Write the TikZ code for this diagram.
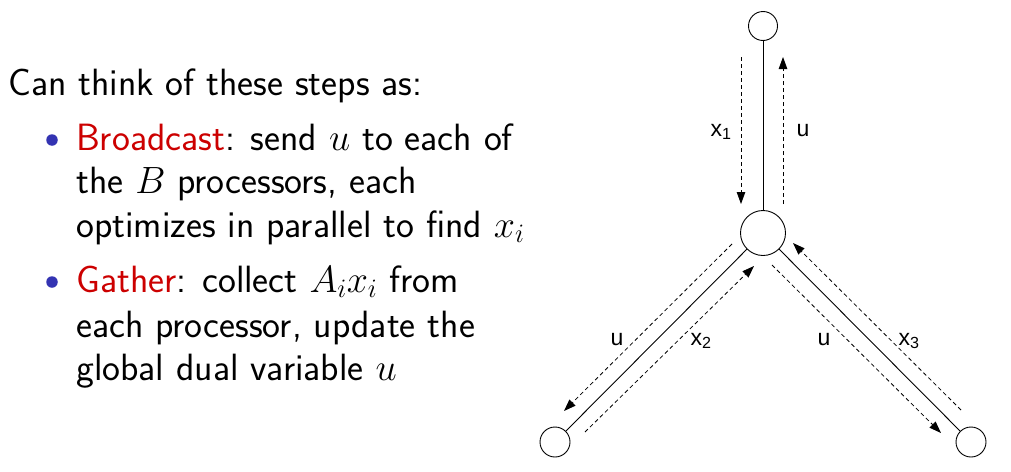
\documentclass[tikz,border=0pt]{standalone}
\usepackage{fix-cm}
\usepackage{fontspec}
\newfontfamily\lblfont{Liberation Sans}
\usetikzlibrary{arrows.meta}
\definecolor{alertred}{RGB}{204,0,0}
\definecolor{bulletblue}{RGB}{51,51,178}
\tikzset{
  proc/.style={circle,draw,line width=0.9pt,inner sep=0pt},
  link/.style={line width=0.9pt},
  msg/.style={dashed,dash pattern=on 4pt off 3pt,line width=0.8pt,-{Triangle[length=12pt,width=8.5pt]}},
  lbl/.style={font=\lblfont\fontsize{23}{25}\selectfont,inner sep=0pt,anchor=base},
  txt/.style={font=\sffamily\fontsize{38}{45}\selectfont,inner sep=0pt,anchor=base west},
  bul/.style={circle,fill=bulletblue,inner sep=0pt,minimum size=11.5pt}
}
\begin{document}
\begin{tikzpicture}[x=1pt,y=-1pt]
\useasboundingbox (0,0) rectangle (1011,471);
% text
\node[txt] (t0) at (8,95) {Can think of these steps as:};
\node[bul] (b1) at (52,140) {};
\node[txt] (t1) at (76,150) {\textcolor{alertred}{Broadcast}: send $u$ to each of};
\node[txt] (t2) at (76,193) {the $B$ processors, each};
\node[txt] (t3) at (76,237) {optimizes in parallel to find $x_i$};
\node[bul] (b2) at (52,282) {};
\node[txt] (t4) at (76,292) {\textcolor{alertred}{Gather}: collect $A_ix_i$ from};
\node[txt] (t5) at (76,337) {each processor, update the};
\node[txt] (t6) at (76,380) {global dual variable $u$};
% nodes
\node[proc,minimum size=29pt] (top) at (763,26) {};
\node[proc,minimum size=45pt] (cen) at (763,233) {};
\node[proc,minimum size=30pt] (bl) at (555,442) {};
\node[proc,minimum size=30pt] (br) at (971,442) {};
\draw[link] (top) -- (cen);
\draw[link] (cen) -- (bl);
\draw[link] (cen) -- (br);
% message arrows
\coordinate (x1s) at (741,57);  \coordinate (x1e) at (741,204);
\coordinate (u1s) at (783,204); \coordinate (u1e) at (783,57);
\coordinate (u2s) at (732,244); \coordinate (u2e) at (564,411);
\coordinate (x2s) at (585,432); \coordinate (x2e) at (754,266);
\coordinate (u3s) at (772,265); \coordinate (u3e) at (941,433);
\coordinate (x3s) at (961,410); \coordinate (x3e) at (793,243);
\draw[msg] (x1s) -- (x1e);
\draw[msg] (u1s) -- (u1e);
\draw[msg] (u2s) -- (u2e);
\draw[msg] (x2s) -- (x2e);
\draw[msg] (u3s) -- (u3e);
\draw[msg] (x3s) -- (x3e);
% labels
\node[lbl] (lx1) at (721,136) {x\textsubscript{1}};
\node[lbl] (lu1) at (803,136) {u};
\node[lbl] (lu2) at (617,345) {u};
\node[lbl] (lx2) at (701,345) {x\textsubscript{2}};
\node[lbl] (lu3) at (824,345) {u};
\node[lbl] (lx3) at (909,345) {x\textsubscript{3}};
\end{tikzpicture}
\end{document}
